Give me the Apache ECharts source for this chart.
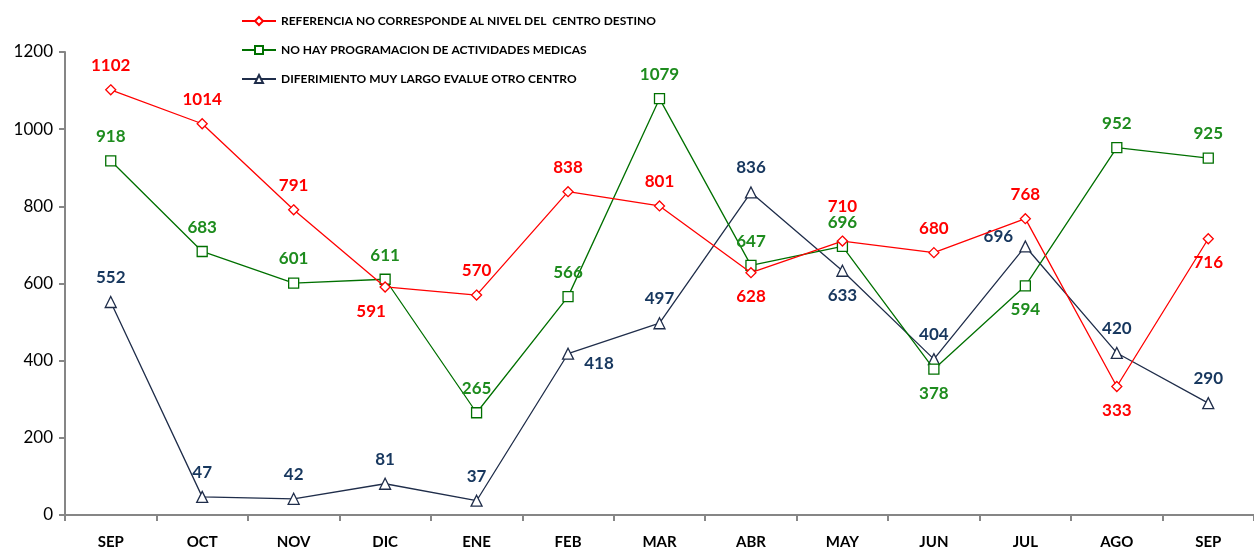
<!DOCTYPE html>
<html>
<head>
<meta charset="utf-8">
<script src="https://cdn.jsdelivr.net/npm/echarts@6/dist/echarts.min.js"></script>
<style>
  html, body { margin: 0; padding: 0; background: #fff; }
  #main { width: 1254px; height: 554px; }
</style>
</head>
<body>
<div id="main"></div>
<script>
const months = ["SEP", "OCT", "NOV", "DIC", "ENE", "FEB", "MAR", "ABR", "MAY", "JUN", "JUL", "AGO", "SEP"];
const referencia = [1102, 1014, 791, 591, 570, 838, 801, 628, 710, 680, 768, 333, 716];
const programacion = [918, 683, 601, 611, 265, 566, 1079, 647, 696, 378, 594, 952, 925];
const diferimiento = [552, 47, 42, 81, 37, 418, 497, 836, 633, 404, 696, 420, 290];
const yTicks = [0, 200, 400, 600, 800, 1000, 1200];

// where each label sits when it is not above the point
const refLabelPos = { 3: "bottom", 7: "bottom", 11: "bottom", 12: "bottom" };
const progLabelPos = { 9: "bottom", 10: "bottom" };
const difLabelPos = { 5: "right", 8: "bottom", 10: "left" };

const chart = echarts.init(document.getElementById("main"));

function withLabels(values, posMap, extra) {
  return values.map((v, i) => {
    const pos = posMap[i] || "top";
    const item = { value: v, label: { position: pos } };
    if (extra && extra[i]) item.label.offset = extra[i];
    return item;
  });
}

const labelBase = {
  show: true,
  fontFamily: "Lato",
  fontWeight: "bold",
  fontSize: 17,
  distance: 10,
};

chart.setOption({
  animation: false,
  textStyle: { fontFamily: "Lato" },
  legend: {
    orient: "vertical",
    left: 236,
    top: 10,
    itemGap: 17,
    itemWidth: 34,
    itemHeight: 10,
    textStyle: { fontFamily: "Lato", fontWeight: "bold", fontSize: 12, color: "#000" },
    data: [
      "REFERENCIA NO CORRESPONDE AL NIVEL DEL  CENTRO DESTINO",
      "NO HAY PROGRAMACION DE ACTIVIDADES MEDICAS",
      "DIFERIMIENTO MUY LARGO EVALUE OTRO CENTRO",
    ],
  },
  grid: { left: 65, right: 0, top: 52, bottom: 39 },
  xAxis: {
    type: "category",
    data: months,
    boundaryGap: true,
    axisLine: { lineStyle: { color: "#868686", width: 2 } },
    axisTick: { show: true, length: 6, lineStyle: { color: "#868686", width: 2 } },
    axisLabel: { fontFamily: "Lato", fontWeight: "bold", fontSize: 15, color: "#000", margin: 20 },
  },
  yAxis: {
    type: "value",
    min: yTicks[0],
    max: yTicks[yTicks.length - 1],
    interval: 200,
    splitLine: { show: false },
    axisLine: { show: true, lineStyle: { color: "#868686", width: 2 } },
    axisTick: { show: true, length: 6, lineStyle: { color: "#868686", width: 2 } },
    axisLabel: {
      fontFamily: "Lato",
      fontSize: 17,
      color: "#000",
      margin: 12,
      formatter: (v) => String(v),
    },
  },
  series: [
    {
      name: "REFERENCIA NO CORRESPONDE AL NIVEL DEL  CENTRO DESTINO",
      type: "line",
      data: withLabels(referencia, refLabelPos, { 3: [-14, 0], 8: [0, -10] }),
      symbol: "diamond",
      symbolSize: 10,
      lineStyle: { color: "#FF0000", width: 1.3 },
      itemStyle: { color: "#fff", borderColor: "#FF0000", borderWidth: 1.3 },
      label: Object.assign({}, labelBase, { color: "#FF0000" }),
      z: 3,
    },
    {
      name: "NO HAY PROGRAMACION DE ACTIVIDADES MEDICAS",
      type: "line",
      data: withLabels(programacion, progLabelPos),
      symbol: "rect",
      symbolSize: 10,
      lineStyle: { color: "#007000", width: 1.3 },
      itemStyle: { color: "#fff", borderColor: "#007000", borderWidth: 1.3 },
      label: Object.assign({}, labelBase, { color: "#1E8C1E" }),
      z: 2,
    },
    {
      name: "DIFERIMIENTO MUY LARGO EVALUE OTRO CENTRO",
      type: "line",
      data: withLabels(diferimiento, difLabelPos, { 5: [0, 10], 10: [4, -10] }),
      symbol: "triangle",
      symbolSize: 11,
      lineStyle: { color: "#1F2D4A", width: 1.3 },
      itemStyle: { color: "#fff", borderColor: "#1F2D4A", borderWidth: 1.3 },
      label: Object.assign({}, labelBase, { color: "#17375E" }),
      z: 1,
    },
  ],
});
</script>
</body>
</html>
